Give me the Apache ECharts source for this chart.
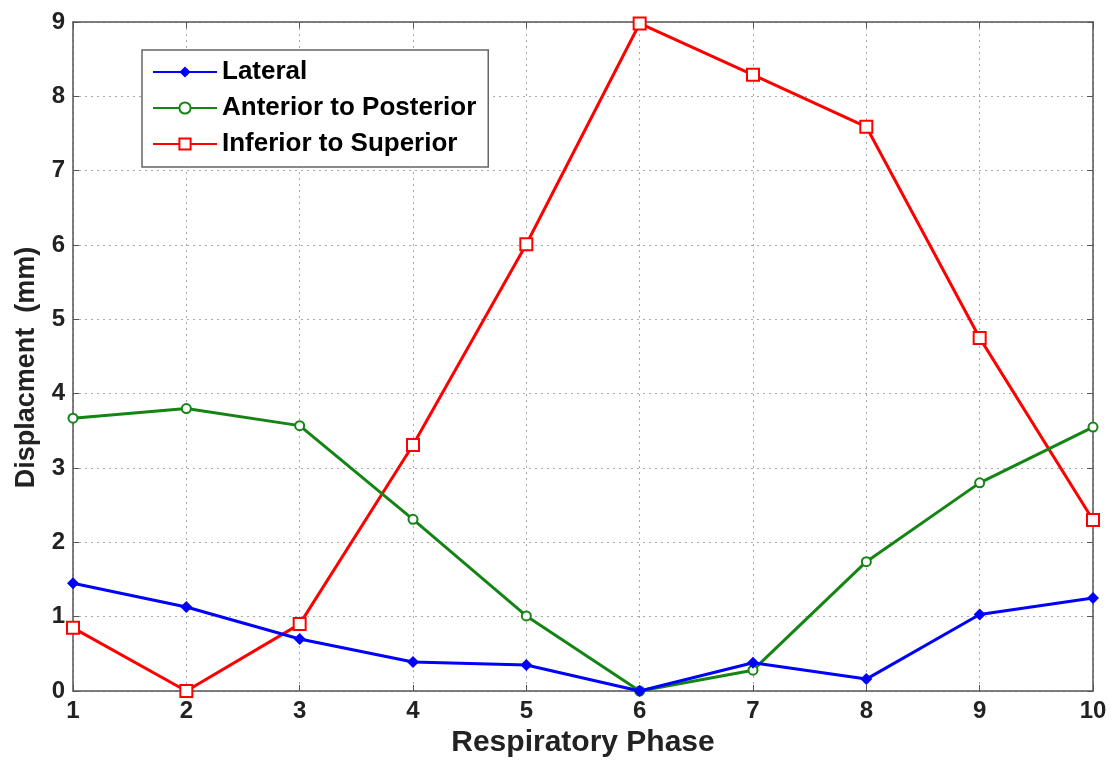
<!DOCTYPE html>
<html><head><meta charset="utf-8">
<script src="https://cdn.jsdelivr.net/npm/echarts@6/dist/echarts.min.js"></script>
<style>html,body{margin:0;padding:0;background:#fff}#c{width:1115px;height:766px}</style>
</head><body><div id="c"></div>
<script>
const phases = [1,2,3,4,5,6,7,8,9,10];
const lateral = [1.45,1.13,0.70,0.39,0.35,0.0,0.38,0.16,1.03,1.25];
const antPost = [3.67,3.80,3.57,2.31,1.01,0.0,0.28,1.74,2.80,3.55];
const infSup = [0.85,0.0,0.90,3.31,6.01,8.98,8.29,7.59,4.75,2.30];
const seriesNames = ['Lateral','Anterior to Posterior','Inferior to Superior'];
const xTicks = {min:1,max:10,interval:1};
const yTicks = {min:0,max:9,interval:1};

const font = 'Liberation Sans, Arial, sans-serif';
const pair = arr => phases.map((p,i)=>[p,arr[i]]);
const chart = echarts.init(document.getElementById('c'));
const axisCommon = {
  axisLine:{show:true,onZero:false,lineStyle:{color:'#555',width:1.5}},
  axisTick:{show:true,inside:true,length:6,lineStyle:{color:'#555'}},
};
chart.setOption({
  animation:false,
  backgroundColor:'#fff',
  grid:{left:73,right:22,top:22,bottom:75,show:false},
  legend:{
    orient:'vertical',left:142,top:50,
    data:seriesNames,
    backgroundColor:'#fff',borderColor:'#666',borderWidth:1.5,
    padding:[9,12,10,10],itemGap:10,itemWidth:64,itemHeight:14,
    textStyle:{fontFamily:font,fontWeight:'bold',fontSize:26,color:'#000'}
  },
  xAxis:[{
    type:'value',...xTicks,...axisCommon,
    name:'Respiratory Phase',nameLocation:'middle',nameGap:36,
    nameTextStyle:{fontFamily:font,fontWeight:'bold',fontSize:30,color:'#222'},
    axisLabel:{fontFamily:font,fontWeight:'bold',fontSize:24,color:'#222',margin:8},
    splitLine:{show:true,lineStyle:{type:[2,4],color:'#aaa',width:1}}
  },{
    type:'value',position:'top',...xTicks,...axisCommon,axisLabel:{show:false},splitLine:{show:false}
  }],
  yAxis:[{
    type:'value',...yTicks,...axisCommon,
    name:'Displacment  (mm)',nameLocation:'middle',nameGap:33,
    nameTextStyle:{fontFamily:font,fontWeight:'bold',fontSize:27,color:'#222',padding:[0,22,0,0]},
    axisLabel:{fontFamily:font,fontWeight:'bold',fontSize:24,color:'#222',margin:8},
    splitLine:{show:true,lineStyle:{type:[2,4],color:'#aaa',width:1}}
  },{
    type:'value',position:'right',...yTicks,...axisCommon,axisLabel:{show:false},splitLine:{show:false}
  }],
  series:[
    {name:seriesNames[0],type:'line',data:pair(lateral),symbol:'diamond',symbolSize:12,
     itemStyle:{color:'#0000ff'},lineStyle:{width:3,color:'#0000ff'},z:4},
    {name:seriesNames[1],type:'line',data:pair(antPost),symbol:'emptyCircle',symbolSize:9,
     itemStyle:{color:'#148514',borderWidth:2},lineStyle:{width:3,color:'#148514'},z:3},
    {name:seriesNames[2],type:'line',data:pair(infSup),symbol:'emptyRect',symbolSize:12,
     itemStyle:{color:'#ff0000',borderWidth:2},lineStyle:{width:3,color:'#ff0000'},z:2}
  ]
});
</script></body></html>
